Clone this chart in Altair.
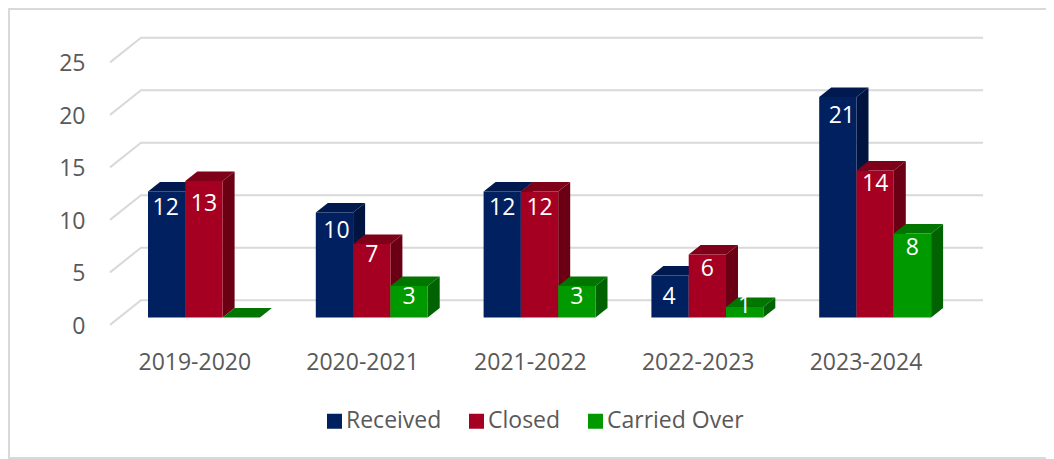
import json
import altair as alt
import pandas as pd

# ---- values ----
periods = ["2019-2020", "2020-2021", "2021-2022", "2022-2023", "2023-2024"]
received = [12, 10, 12, 4, 21]
closed = [13, 7, 12, 6, 14]
carried_over = [0, 3, 3, 1, 8]
series_names = ["Received", "Closed", "Carried Over"]
series_values = [received, closed, carried_over]
axis_values = [0, 5, 10, 15, 20, 25]

# ---- styling / layout ----
FRONT = ["#002060", "#A50021", "#009900"]
TOP = ["#001A50", "#7F0019", "#007500"]
SIDE = ["#00143F", "#6B0014", "#006200"]
TEXT = "#595959"
GRID = "#D9D9D9"
FONT = "Open Sans"
FS = 23
PX_X = 167.8       # pixels per category
PX_Y = 10.5        # pixels per value unit
W, H = 1038, 451   # whole chart
X0, Y0 = 148 - 8, 317.5 - 8  # where category 0 / value 0 fall inside the chart
BAR = 37.3 / PX_X
DEPTH_X = 12 / PX_X
DEPTH_Y = 9.5 / PX_Y
# how far each label sits below the top of its bar, in pixels
LABEL_DROP = [[16, 18, 16, 21, 19], [23, 11, 16, 14, 13], [0, 11, 11, -1, 14]]
# small sideways nudge of each label from the centre of its bar, in pixels
LABEL_NUDGE = [[-1, 2, 0, -1, 4], [0, 0, 0, 0, 0], [0, 0, 0, 0, 0]]

x_scale = alt.Scale(domain=[-X0 / PX_X, (W - X0) / PX_X], nice=False, zero=False)
y_scale = alt.Scale(domain=[(Y0 - H) / PX_Y, Y0 / PX_Y], nice=False, zero=False)
label_shift = 0.276
label_expr = "%s[round(datum.value - %s)]" % (json.dumps(periods), label_shift)


def X(f):
    return alt.X(f, type="quantitative", scale=x_scale, title=None,
                 axis=alt.Axis(values=[i + label_shift for i in range(len(periods))],
                               labelExpr=label_expr, orient="bottom", offset=-108,
                               grid=False, domain=False, ticks=False, labelPadding=0,
                               labelFont=FONT, labelFontSize=FS, labelColor=TEXT,
                               labelOverlap=False))


def Y(f):
    return alt.Y(f, type="quantitative", scale=y_scale, title=None,
                 axis=alt.Axis(values=axis_values, orient="left", offset=-77, grid=False,
                               domain=False, ticks=False, labelPadding=0, labelOffset=8.5,
                               labelFont=FONT, labelFontSize=FS, labelColor=TEXT))


# gridlines on the receding wall
wall_left = (110 - 148) / PX_X
wall_back = (141 - 148) / PX_X
wall_right = (983 - 148) / PX_X
grid_rows = []
for v in axis_values:
    grid_rows += [
        {"v": v, "x": wall_left, "y": v - 0.70},
        {"v": v, "x": wall_back, "y": v + 1.65},
        {"v": v, "x": wall_right, "y": v + 1.65},
    ]
grid = alt.Chart(pd.DataFrame(grid_rows)).mark_line(color=GRID, strokeWidth=2).encode(
    x=X("x"), y=Y("y"), detail="v:N", order="x:Q")

layers = [grid]
for s, (name, vals) in enumerate(zip(series_names, series_values)):
    fronts, sides, tops = [], [], []
    for g, v in enumerate(vals):
        x0 = g + s * BAR
        x1 = x0 + BAR
        fronts.append({"series": name, "x0": x0, "x1": x1, "v": v, "base": 0})
        sides += [{"g": g, "x": x1, "lo": 0, "hi": v},
                  {"g": g, "x": x1 + DEPTH_X, "lo": DEPTH_Y, "hi": v + DEPTH_Y}]
        tops += [{"g": g, "y": v, "a": x0, "b": x1},
                 {"g": g, "y": v + DEPTH_Y, "a": x0 + DEPTH_X, "b": x1 + DEPTH_X}]
    layers.append(alt.Chart(pd.DataFrame(sides)).mark_area(color=SIDE[s], orient="vertical").encode(
        x=X("x"), y=Y("lo"), y2="hi:Q", detail="g:N"))
    layers.append(alt.Chart(pd.DataFrame(tops)).mark_area(color=TOP[s], orient="horizontal").encode(
        y=Y("y"), x=X("a"), x2="b:Q", detail="g:N"))
    layers.append(alt.Chart(pd.DataFrame(fronts)).mark_rect().encode(
        x=X("x0"), x2="x1:Q", y=Y("base"), y2="v:Q",
        color=alt.Color("series:N",
                        scale=alt.Scale(domain=series_names, range=FRONT),
                        legend=alt.Legend(title=None, orient="none", direction="horizontal",
                                          legendX=315, legendY=401.5, symbolType="square",
                                          symbolSize=225, symbolStrokeWidth=0, columns=3,
                                          symbolOpacity=1, labelFont=FONT, labelFontSize=FS,
                                          labelColor=TEXT, labelOffset=0, columnPadding=23,
                                          labelLimit=300))))

label_rows = []
for s, vals in enumerate(series_values):
    for g, v in enumerate(vals):
        if v:
            label_rows.append({"x": g + (s + 0.5) * BAR + LABEL_NUDGE[s][g] / PX_X,
                               "y": v - LABEL_DROP[s][g] / PX_Y, "t": str(v)})
labels = alt.Chart(pd.DataFrame(label_rows)).mark_text(
    color="white", font=FONT, fontSize=FS, baseline="middle", align="center").encode(
    x=X("x"), y=Y("y"), text="t:N")
layers.append(labels)

# outer frame: left, top and bottom edges
frame = [
    alt.Chart(pd.DataFrame({"a": [0]})).mark_rule(color=GRID, strokeWidth=2).encode(
        x=alt.value(1), y=alt.value(0), y2=alt.value(H)),
    alt.Chart(pd.DataFrame({"a": [0]})).mark_rule(color=GRID, strokeWidth=2).encode(
        y=alt.value(1), x=alt.value(0), x2=alt.value(W)),
    alt.Chart(pd.DataFrame({"a": [0]})).mark_rule(color=GRID, strokeWidth=2).encode(
        y=alt.value(H - 1), x=alt.value(0), x2=alt.value(W)),
]

chart = alt.layer(*frame, *layers).properties(
    width=W, height=H, padding=0, autosize=alt.AutoSizeParams(type="none"),
    background="white",
).configure_view(stroke=None)

chart.save("out.html", embed_options={"renderer": "svg", "actions": False})
